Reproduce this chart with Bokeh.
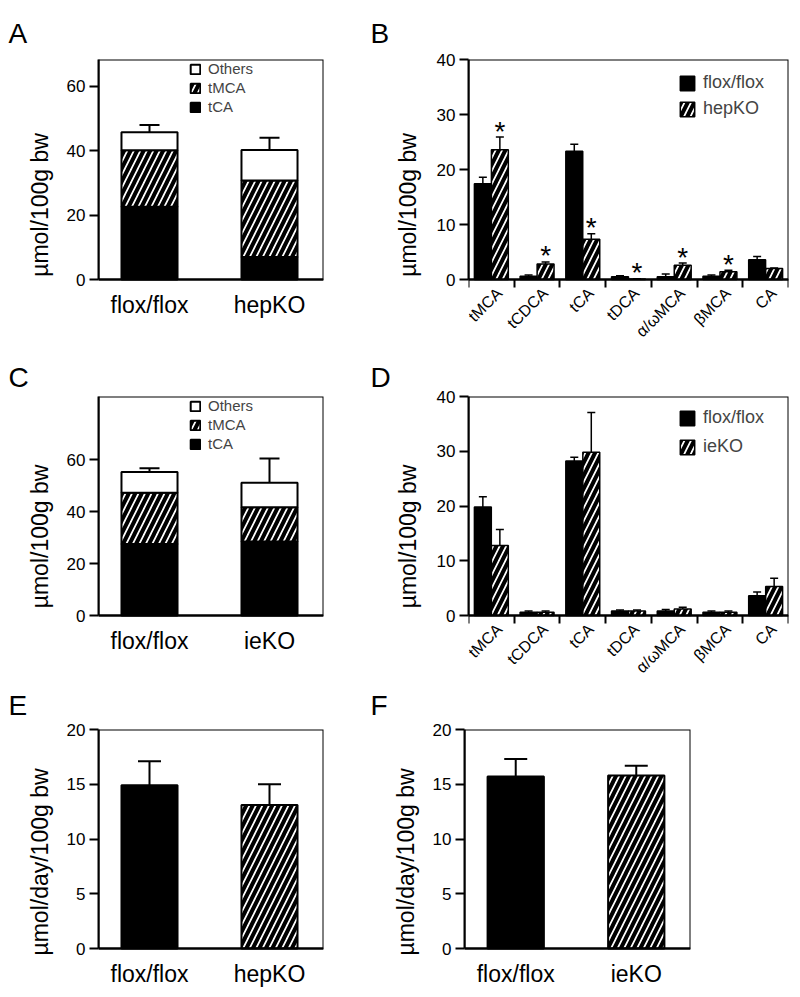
import numpy as np
from math import pi
from bokeh.plotting import figure
from bokeh.layouts import column, row
from bokeh.models import (ColumnDataSource, Range1d, FixedTicker, Whisker, TeeHead,
                          Legend, LegendItem, BoxAnnotation)
from bokeh.core.properties import value
from bokeh.embed import file_html
from bokeh.resources import INLINE

FONT = "Liberation Sans"

# ---------------- data ----------------
# Panel A (hepatocyte KO, bile acid pool composition)
a_groups = ["flox/flox", "hepKO"]
a_tca = [22.6, 7.0]
a_tmca = [17.5, 23.7]
a_others = [5.6, 9.5]
a_sem = [2.3, 3.8]

# Panel C (intestine KO, bile acid pool composition)
c_groups = ["flox/flox", "ieKO"]
c_tca = [27.6, 28.6]
c_tmca = [19.8, 13.2]
c_others = [8.0, 9.4]
c_sem = [1.4, 9.4]

stack_names = ["tCA", "tMCA", "Others"]

# Panels B / D (individual bile acids)
bile_acids = ["tMCA", "tCDCA", "tCA", "tDCA", "α/ωMCA", "βMCA", "CA"]
b_flox = [17.4, 0.6, 23.3, 0.5, 0.5, 0.6, 3.6]
b_flox_sem = [1.2, 0.2, 1.3, 0.2, 0.5, 0.2, 0.6]
b_ko = [23.6, 2.8, 7.3, 0.1, 2.6, 1.4, 2.0]
b_ko_sem = [2.3, 0.4, 1.0, 0.05, 0.4, 0.3, 0.1]
b_sig = [True, True, True, True, True, True, False]

d_flox = [19.8, 0.6, 28.2, 0.8, 0.8, 0.6, 3.6]
d_flox_sem = [1.9, 0.2, 0.7, 0.2, 0.3, 0.2, 0.7]
d_ko = [12.8, 0.6, 29.8, 0.8, 1.2, 0.6, 5.3]
d_ko_sem = [2.9, 0.2, 7.3, 0.2, 0.3, 0.2, 1.5]
d_sig = [False, False, False, False, False, False, False]

# Panels E / F (fecal excretion)
e_groups = ["flox/flox", "hepKO"]
e_mean = [14.9, 13.1]
e_sem = [2.2, 1.9]
f_groups = ["flox/flox", "ieKO"]
f_mean = [15.7, 15.8]
f_sem = [1.6, 0.9]

# ---------------- helpers ----------------
HATCH = dict(hatch_pattern="/", hatch_color="black", hatch_weight=4, hatch_scale=13)
BOTTOM_PAD = 2


def base_fig(w, h, left, right, top, box_h, xr, ymax, yticks, letter, loff, lstand):
    """Frame extends below y=0 down to the figure bottom; the visible box is 0..ymax."""
    extra = h - BOTTOM_PAD - top - box_h
    ystart = -extra * ymax / box_h
    p = figure(width=w, height=h, x_range=xr, y_range=Range1d(ystart, ymax),
               output_backend="svg", toolbar_location=None,
               min_border_left=left, min_border_right=right,
               min_border_top=top, min_border_bottom=BOTTOM_PAD)
    p.outline_line_color = None
    p.grid.visible = False
    p.background_fill_color = "white"
    p.border_fill_color = "white"
    p.add_layout(BoxAnnotation(left=xr.start, right=xr.end, bottom=0, top=ymax,
                               fill_color=None, fill_alpha=0, line_color="black",
                               line_width=2, line_alpha=1))
    p.title.text = letter
    p.title.align = "left"
    p.title.offset = loff
    p.title.standoff = lstand
    p.title.text_font = FONT
    p.title.text_font_size = "28px"
    p.title.text_font_style = "normal"
    p.title.text_color = "black"
    for ax in p.axis:
        ax.axis_line_width = 2
        ax.axis_line_color = "black"
        ax.major_tick_line_width = 2
        ax.major_tick_line_color = "black"
        ax.major_tick_in = 0
        ax.major_tick_out = 9
        ax.minor_tick_line_color = None
        ax.major_label_text_font = FONT
        ax.major_label_text_color = "black"
        ax.axis_label_text_font = FONT
        ax.axis_label_text_font_style = "normal"
        ax.axis_label_text_color = "black"
    p.xaxis.fixed_location = 0
    p.yaxis.bounds = (0, ymax)
    p.yaxis.ticker = FixedTicker(ticks=yticks)
    p.yaxis.major_label_text_font_size = "17px"
    p.yaxis.axis_label_text_font_size = "23px"
    p.yaxis.major_label_standoff = 4
    return p, extra


def add_whisker(p, xs, lo, hi, size, lw):
    src = ColumnDataSource(dict(base=list(xs), lower=list(lo), upper=list(hi)))
    w = Whisker(source=src, base="base", lower="lower", upper="upper", dimension="height",
                line_color="black", line_width=lw, lower_head=None,
                upper_head=TeeHead(size=size, line_color="black", line_width=lw))
    p.add_layout(w)


def two_group_x(p, groups):
    xs = list(range(1, len(groups) + 1))
    p.xaxis.ticker = FixedTicker(ticks=xs)
    p.xaxis.major_label_overrides = {x: g for x, g in zip(xs, groups)}
    p.xaxis.major_tick_out = 0
    p.xaxis.major_tick_line_color = None
    p.xaxis.major_label_text_font_size = "23px"
    p.xaxis.major_label_standoff = 12
    return xs


def stacked_panel(groups, tca, tmca, others, sem, ymax, yticks, letter, loff, lstand,
                  w, h, left, right, top, box_h, legend_top):
    p, extra = base_fig(w, h, left, right, top, box_h, Range1d(0.575, 2.45), ymax, yticks,
                        letter, loff, lstand)
    xs = two_group_x(p, groups)
    p.yaxis.axis_label = "µmol/100g bw"
    p.yaxis.axis_label_standoff = 11
    tca = np.array(tca)
    tmca_top = tca + np.array(tmca)
    total = tmca_top + np.array(others)
    src = ColumnDataSource(dict(x=xs, tca=tca, tmca_top=tmca_top, total=total))
    bw = 0.467
    r1 = p.vbar(x="x", bottom=0, top="tca", width=bw, source=src,
                fill_color="black", line_color="black", line_width=2)
    r2 = p.vbar(x="x", bottom="tca", top="tmca_top", width=bw, source=src,
                fill_color="white", line_color="black", line_width=2, **HATCH)
    r3 = p.vbar(x="x", bottom="tmca_top", top="total", width=bw, source=src,
                fill_color="white", line_color="black", line_width=2)
    add_whisker(p, xs, total, total + np.array(sem), 20, 2)
    leg_h = 52
    leg = Legend(items=[LegendItem(label=stack_names[2], renderers=[r3]),
                        LegendItem(label=stack_names[1], renderers=[r2]),
                        LegendItem(label=stack_names[0], renderers=[r1])],
                 location=(91, extra + box_h - legend_top - leg_h),
                 orientation="vertical", padding=0, margin=0,
                 spacing=2, glyph_width=12, glyph_height=12, label_height=16,
                 label_standoff=7, label_text_font=FONT, label_text_font_size="15px",
                 border_line_color=None, background_fill_alpha=0)
    p.add_layout(leg)
    return p


def detail_panel(flox, flox_sem, ko, ko_sem, sig, ko_name, letter, loff, lstand,
                 w, h, left, right, top, box_h, legend_top, legend_spacing):
    n = len(bile_acids)
    p, extra = base_fig(w, h, left, right, top, box_h, Range1d(0, n), 40,
                        [0, 10, 20, 30, 40], letter, loff, lstand)
    centers = [i + 0.5 for i in range(n)]
    p.xaxis.ticker = FixedTicker(ticks=[], minor_ticks=list(range(n + 1)))
    p.xaxis.major_tick_out = 0
    p.xaxis.minor_tick_line_color = "black"
    p.xaxis.minor_tick_line_width = 2
    p.xaxis.minor_tick_out = 8
    p.xaxis.minor_tick_in = 0
    p.yaxis.axis_label = "µmol/100g bw"
    p.yaxis.axis_label_standoff = 13
    # category labels, rotated under the axis
    p.text(x=centers, y=[0] * n, text=bile_acids, angle=pi / 4,
           text_align="right", text_baseline="middle", x_offset=8, y_offset=11,
           text_font=value(FONT), text_font_size="16px", text_color="black")
    off, bw = 0.186, 0.37
    xf = [c - off for c in centers]
    xk = [c + off for c in centers]
    sf = ColumnDataSource(dict(x=xf, top=flox))
    sk = ColumnDataSource(dict(x=xk, top=ko))
    r1 = p.vbar(x="x", bottom=0, top="top", width=bw, source=sf,
                fill_color="black", line_color="black", line_width=1.5)
    r2 = p.vbar(x="x", bottom=0, top="top", width=bw, source=sk,
                fill_color="white", line_color="black", line_width=1.5, **HATCH)
    add_whisker(p, xf, flox, np.array(flox) + np.array(flox_sem), 8, 1.5)
    add_whisker(p, xk, ko, np.array(ko) + np.array(ko_sem), 8, 1.5)
    star_x = [x for x, s in zip(xk, sig) if s]
    star_y = [m + e for m, e, s in zip(ko, ko_sem, sig) if s]
    if star_x:
        p.text(x=star_x, y=star_y, text=["*"] * len(star_x), text_font=value(FONT),
               text_font_size="28px", text_align="center", text_baseline="alphabetic",
               y_offset=-6, text_color="black")
    leg_h = 42 + legend_spacing
    leg = Legend(items=[LegendItem(label="flox/flox", renderers=[r1]),
                        LegendItem(label=ko_name, renderers=[r2])],
                 location=(210, extra + box_h - legend_top - leg_h),
                 orientation="vertical", padding=0, margin=0,
                 spacing=legend_spacing, glyph_width=18, glyph_height=18, label_height=21,
                 label_standoff=7, label_text_font=FONT, label_text_font_size="18px",
                 border_line_color=None, background_fill_alpha=0)
    p.add_layout(leg)
    return p


def simple_panel(groups, mean, sem, letter, loff, lstand, w, h, left, right, top, box_h):
    p, extra = base_fig(w, h, left, right, top, box_h, Range1d(0.575, 2.45), 20,
                        [0, 5, 10, 15, 20], letter, loff, lstand)
    xs = two_group_x(p, groups)
    p.yaxis.axis_label = "µmol/day/100g bw"
    p.yaxis.axis_label_standoff = 11
    s1 = ColumnDataSource(dict(x=xs[:1], top=mean[:1]))
    s2 = ColumnDataSource(dict(x=xs[1:], top=mean[1:]))
    bw = 0.467
    p.vbar(x="x", bottom=0, top="top", width=bw, source=s1,
           fill_color="black", line_color="black", line_width=2)
    p.vbar(x="x", bottom=0, top="top", width=bw, source=s2,
           fill_color="white", line_color="black", line_width=2, **HATCH)
    add_whisker(p, xs, mean, np.array(mean) + np.array(sem), 23, 2)
    return p


# ---------------- layout ----------------
W1, W2 = 368, 430
H1, H2, H3 = 352, 326, 318
pA = stacked_panel(a_groups, a_tca, a_tmca, a_others, a_sem, 68.3, [0, 20, 40, 60],
                   "A", -90, 22, W1, H1, 98, 45, 59, 220, 4)
pB = detail_panel(b_flox, b_flox_sem, b_ko, b_ko_sem, b_sig, "hepKO", "B", -98, 22,
                  W2, H1, 100, 10, 59, 220, 13, 5)
pC = stacked_panel(c_groups, c_tca, c_tmca, c_others, c_sem, 84.5, [0, 20, 40, 60],
                   "C", -90, 8, W1, H2, 98, 45, 44, 219, 4)
pD = detail_panel(d_flox, d_flox_sem, d_ko, d_ko_sem, d_sig, "ieKO", "D", -98, 8,
                  W2, H2, 100, 10, 44, 219, 11, 8)
pE = simple_panel(e_groups, e_mean, e_sem, "E", -90, 17, W1, H3, 98, 45, 51, 219)
pF = simple_panel(f_groups, f_mean, f_sem, "F", -94, 17, W2, H3, 96, 108, 51, 219)

layout = column(row(pA, pB), row(pC, pD), row(pE, pF))

with open("out.html", "w") as fh:
    fh.write(file_html(layout, INLINE))
